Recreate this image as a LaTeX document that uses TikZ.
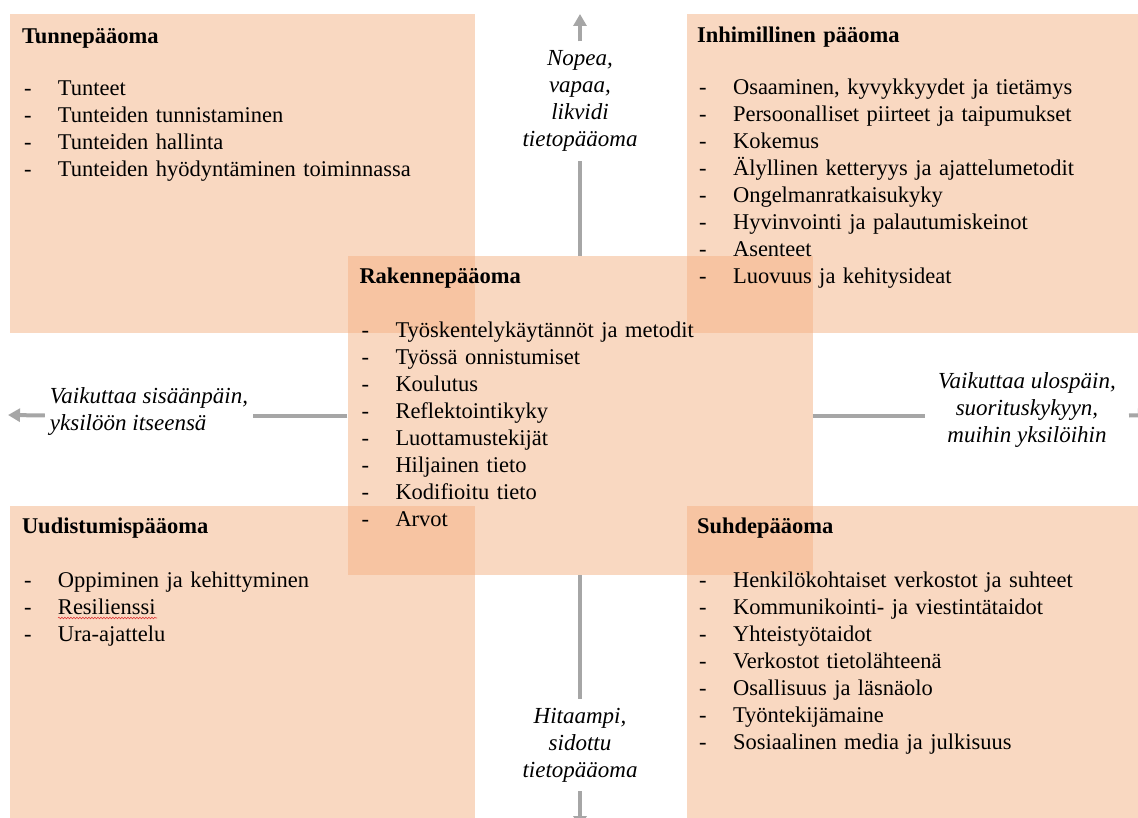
\documentclass[tikz,border=0pt]{standalone}
\usepackage{fontspec}
\setmainfont{Liberation Serif}
\usetikzlibrary{arrows.meta, decorations.pathmorphing}
\definecolor{persikka}{HTML}{F4B183}
\definecolor{nuolenharmaa}{HTML}{A6A6A6}
\definecolor{virheviiva}{HTML}{E03C3C}

% list row: dash, hanging indent, text
\newcommand{\kohta}[1]{\makebox[36pt][l]{\hspace{2pt}-}#1}

\begin{document}
\begin{tikzpicture}[x=1pt, y=-1pt,
    laatikko/.style={fill=persikka, fill opacity=0.5, draw=none, inner sep=0pt,
        minimum width=465pt, minimum height=319pt},
    lista/.style={anchor=north west, inner sep=0pt, align=left, text width=440pt,
        font=\fontsize{22.5}{27}\selectfont},
    selite/.style={inner ysep=9pt, inner xsep=8pt, font=\fontsize{23}{27}\selectfont\itshape},
    virta/.style={draw=nuolenharmaa, line width=4pt},
    nuoli/.style={virta, -{Triangle[width=13pt,length=12pt]}}]

    \useasboundingbox (0,0) rectangle (1138,818);

    % the five capital areas
    \node[laatikko] (tunne) at (242.5,173.5) {};
    \node[laatikko] (inhimillinen) at (919.5,173.5) {};
    \node[laatikko] (uudistumis) at (242.5,665.5) {};
    \node[laatikko] (suhde) at (919.5,665.5) {};
    \node[laatikko] (rakenne) at (580,415.5) {};

    % direction labels
    \node[selite, align=center] (nopea) at (580,101) {Nopea,\\vapaa,\\likvidi\\tietopääoma};
    \node[selite, align=center] (hitaampi) at (580,745) {Hitaampi,\\sidottu\\tietopääoma};
    \node[selite, align=left, inner xsep=5pt] (sisaan) at (149,412) {Vaikuttaa sisäänpäin,\\yksilöön itseensä};
    \node[selite, align=center, inner xsep=13pt] (ulos) at (1027,410) {Vaikuttaa ulospäin,\\suorituskykyyn,\\muihin yksilöihin};

    \coordinate (ylos) at (580,14);
    \coordinate (alas) at (580,828);
    \coordinate (vasen) at (8,415);
    \coordinate (oikea) at (1150,415);

    \draw[virta] (rakenne.north) -- (nopea);
    \draw[nuoli] (nopea) -- (ylos);
    \draw[virta] (rakenne.south) -- (hitaampi);
    \draw[nuoli] (hitaampi) -- (alas);
    \draw[virta] (rakenne.west) -- (rakenne.west -| sisaan.east);
    \draw[nuoli] (rakenne.west -| sisaan.west) -- (vasen);
    \draw[virta] (rakenne.east) -- (rakenne.east -| ulos.west);
    \draw[nuoli] (rakenne.east -| ulos.east) -- (oikea);

    % contents
    \node[lista] (tunne-t) at ([shift={(12,14)}]tunne.north west) {\textbf{Tunnepääoma}\\[25pt]
        \kohta{Tunteet}\\
        \kohta{Tunteiden tunnistaminen}\\
        \kohta{Tunteiden hallinta}\\
        \kohta{Tunteiden hyödyntäminen toiminnassa}};
    \node[lista] (inhimillinen-t) at ([shift={(10,13)}]inhimillinen.north west) {\textbf{Inhimillinen pääoma}\\[25pt]
        \kohta{Osaaminen, kyvykkyydet ja tietämys}\\
        \kohta{Persoonalliset piirteet ja taipumukset}\\
        \kohta{Kokemus}\\
        \kohta{Älyllinen ketteryys ja ajattelumetodit}\\
        \kohta{Ongelmanratkaisukyky}\\
        \kohta{Hyvinvointi ja palautumiskeinot}\\
        \kohta{Asenteet}\\
        \kohta{Luovuus ja kehitysideat}};
    \node[lista] (rakenne-t) at ([shift={(12,12)}]rakenne.north west) {\textbf{Rakennepääoma}\\[27pt]
        \kohta{Työskentelykäytännöt ja metodit}\\
        \kohta{Työssä onnistumiset}\\
        \kohta{Koulutus}\\
        \kohta{Reflektointikyky}\\
        \kohta{Luottamustekijät}\\
        \kohta{Hiljainen tieto}\\
        \kohta{Kodifioitu tieto}\\
        \kohta{Arvot}};
    \node[lista] (uudistumis-t) at ([shift={(12,12)}]uudistumis.north west) {\textbf{Uudistumispääoma}\\[27pt]
        \kohta{Oppiminen ja kehittyminen}\\
        \kohta{Resilienssi}\\
        \kohta{Ura-ajattelu}};
    \node[lista] (suhde-t) at ([shift={(10,12)}]suhde.north west) {\textbf{Suhdepääoma}\\[27pt]
        \kohta{Henkilökohtaiset verkostot ja suhteet}\\
        \kohta{Kommunikointi- ja viestintätaidot}\\
        \kohta{Yhteistyötaidot}\\
        \kohta{Verkostot tietolähteenä}\\
        \kohta{Osallisuus ja läsnäolo}\\
        \kohta{Työntekijämaine}\\
        \kohta{Sosiaalinen media ja julkisuus}};

    % spell-check squiggle
    \draw[virheviiva, line width=0.6pt, decorate,
        decoration={snake, amplitude=0.8pt, segment length=3pt}] (58,618) -- (157,618);
\end{tikzpicture}
\end{document}
